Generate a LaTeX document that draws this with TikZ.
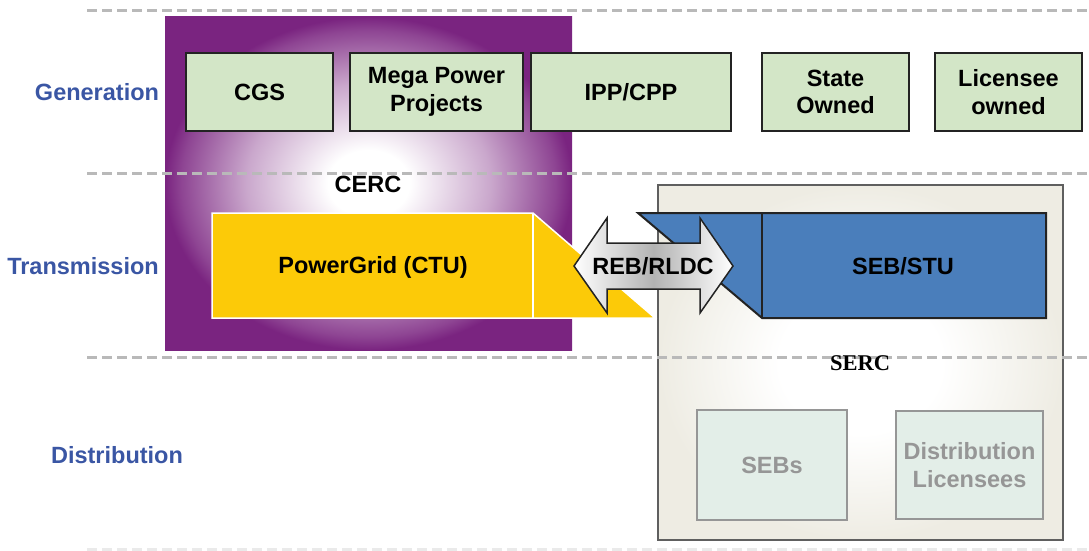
\documentclass[tikz,border=0pt]{standalone}
\usepackage{fontspec}
\setmainfont{Liberation Sans}
\newfontfamily\timesfont{Liberation Serif}
\usepackage{tikz}

\definecolor{cercpurple}{RGB}{122,36,128}
\definecolor{genfill}{RGB}{211,230,199}
\definecolor{boxline}{RGB}{35,35,35}
\definecolor{rowblue}{RGB}{58,86,164}
\definecolor{ctuyellow}{RGB}{252,202,8}
\definecolor{stublue}{RGB}{74,126,187}
\definecolor{sercfill}{RGB}{238,236,227}
\definecolor{sercline}{RGB}{95,95,95}
\definecolor{distfill}{RGB}{227,238,232}
\definecolor{distgray}{RGB}{150,150,150}
\definecolor{rowline}{RGB}{185,185,185}

\pgfdeclareradialshading{cercglow}{\pgfpoint{0bp}{0bp}}
  {color(0bp)=(white); color(5bp)=(white); color(15bp)=(cercpurple!40);
   color(23bp)=(cercpurple!85); color(25bp)=(cercpurple); color(50bp)=(cercpurple)}
\pgfdeclareradialshading{sercglow}{\pgfpoint{0bp}{0bp}}
  {color(0bp)=(white); color(10bp)=(white); color(25bp)=(sercfill); color(50bp)=(sercfill)}

\tikzset{
  bigtext/.style={font=\fontsize{23.5}{27.5}\selectfont\bfseries},
  genbox/.style={bigtext, draw=boxline, line width=2pt, fill=genfill,
                 minimum height=78pt, align=center, inner sep=0pt},
  rowlabel/.style={bigtext, text=rowblue},
  distbox/.style={bigtext, draw=distgray, line width=2.5pt, fill=distfill,
                  text=distgray, align=center, inner sep=0pt},
  rowsep/.style={rowline, line width=3pt, dash pattern=on 10pt off 5pt},
}

\begin{document}
\begin{tikzpicture}[x=1pt,y=-1pt]
  \useasboundingbox (0,0) rectangle (1089,551);
  % the two regulators: CERC (purple glow) and SERC (grey panel)
  \shade[shading=cercglow] (165,17) rectangle (572,350);
  \shade[shading=sercglow] (658,185) rectangle (1063,540);
  \draw[sercline,line width=2pt] (658,185) rectangle (1063,540);
  % row separators
  \foreach \y in {11,173,357}
     { \draw[rowsep] (87,\y) -- (1089,\y); }
  \draw[rowsep,rowline!30] (87,549) -- (1089,549);

  \node[rowlabel] (gen)   at (97,92)   {Generation};
  \node[rowlabel] (trans) at (83,266)  {Transmission};
  \node[rowlabel] (dist)  at (117,455) {Distribution};

  \foreach \name/\cx/\w/\txt in {cgs/259.5/147/CGS,
                                 mega/436.5/173/{Mega Power\\Projects},
                                 ipp/631/200/{IPP/CPP},
                                 state/835.5/147/{State\\Owned},
                                 lic/1008.5/147/{Licensee\\owned}}
     { \node[genbox, minimum width=\w pt] (\name) at (\cx,92) {\txt}; }

  \node[bigtext] (cerc) at (368,184) {CERC};

  % CTU block with its wedge
  \draw[fill=ctuyellow, draw=white, line width=1.5pt]
        (212,213) -- (533,213) -- (655,318) -- (212,318) -- cycle;
  \draw[white, line width=1.5pt] (533,213) -- (533,318);
  \node[bigtext] (ctu) at (373,267) {PowerGrid (CTU)};

  % STU block with its wedge
  \draw[fill=stublue, draw=boxline, line width=2pt]
        (638,213) -- (1046,213) -- (1046,318) -- (762,318) -- cycle;
  \draw[boxline, line width=2pt] (762,213) -- (762,318);
  \node[bigtext] (stu) at (903,266) {SEB/STU};

  % double arrow between them
  \draw[boxline, line width=1.5pt, left color=white, right color=white,
        middle color=gray!60]
        (574,266) -- (607,218) -- (607,243) -- (700,243) -- (700,218)
        -- (733,266) -- (700,313) -- (700,289) -- (607,289) -- (607,313) -- cycle;
  \node[bigtext] (reb) at (653,266) {REB/RLDC};

  \node[font=\timesfont\fontsize{22.5}{26}\selectfont\bfseries] (serc) at (860,363) {SERC};
  \node[distbox, minimum width=150pt, minimum height=110pt] (sebs) at (772,465) {SEBs};
  \node[distbox, minimum width=147pt, minimum height=108pt] (dlic) at (969.5,465)
        {Distribution\\Licensees};
\end{tikzpicture}
\end{document}
